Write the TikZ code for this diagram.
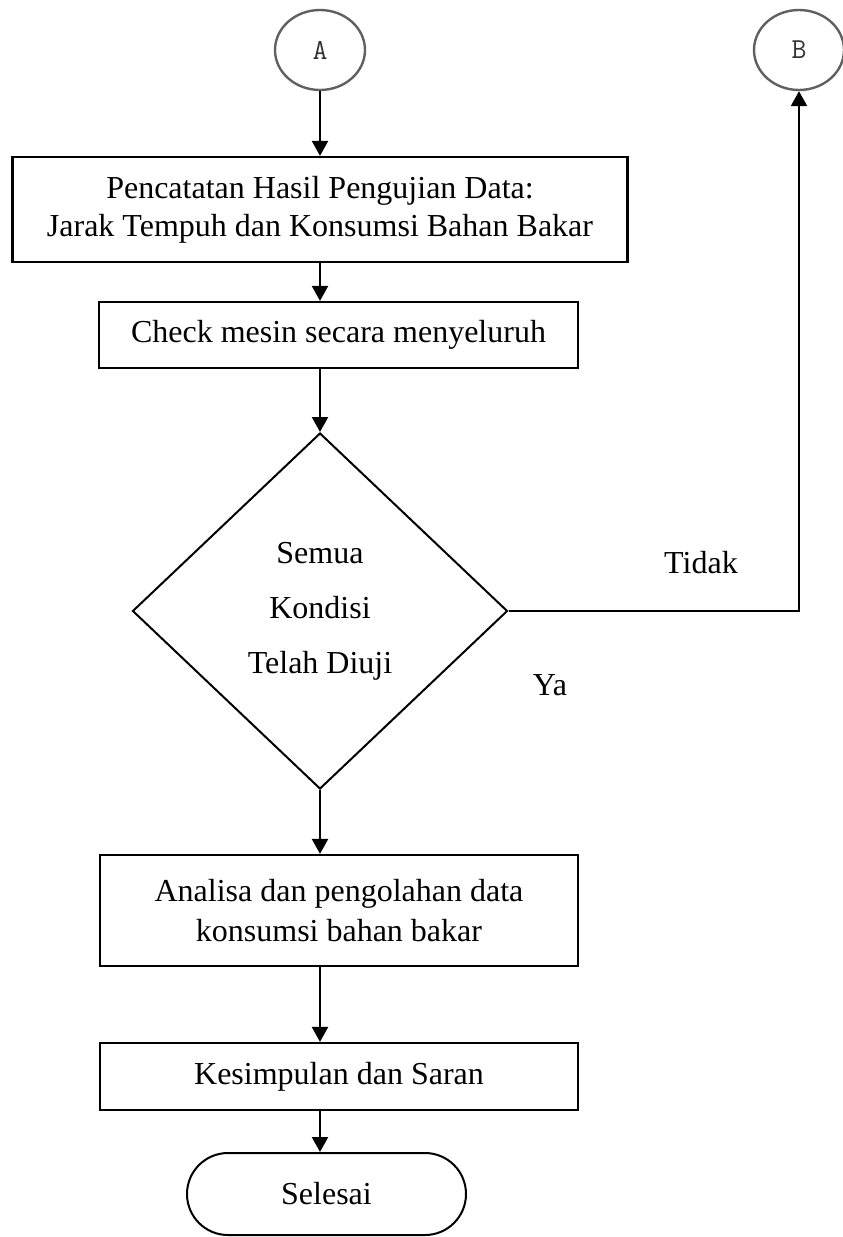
\documentclass[tikz,border=0pt]{standalone}
\usepackage{fontspec}
\setmainfont{Liberation Serif}
\usetikzlibrary{arrows.meta,shapes.geometric}
\begin{document}
\begin{tikzpicture}[x=1pt,y=-1pt,
  every node/.style={font=\fontsize{32}{38}\selectfont},
  procbox/.style={draw,line width=2.2pt,rectangle,inner sep=0pt,align=center},
  conn/.style={draw=gray!75!black,line width=2.4pt,ellipse,inner sep=0pt,minimum width=90pt,minimum height=80pt,text=black!80,font=\ttfamily\fontsize{29}{30}\selectfont},
  decision/.style={draw,line width=2pt,diamond,inner sep=0pt,minimum width=375pt,minimum height=356pt,align=center,font=\fontsize{32}{55}\selectfont},
  term/.style={draw,line width=2pt,rectangle,rounded corners=41pt,inner sep=0pt,minimum width=279pt,minimum height=82pt},
  arr/.style={line width=2.3pt,-{Triangle[length=15pt,width=16pt]}},
  lbl/.style={anchor=base}]
\useasboundingbox (0,0) rectangle (843,1237);
\node[conn] (A) at (320,50) {A};
\node[conn] (B) at (799,50) {B};
\node[procbox,minimum width=615pt,minimum height=105pt] (b1) at (320,209.5) {Pencatatan Hasil Pengujian Data:\\Jarak Tempuh dan Konsumsi Bahan Bakar};
\node[procbox,minimum width=479pt,minimum height=66pt] (b2) at (338.5,335) {Check mesin secara menyeluruh};
\node[decision] (dia) at (320,611) {Semua\\Kondisi\\Telah Diuji};
\node[procbox,minimum width=478pt,minimum height=111pt,font=\fontsize{32}{40}\selectfont] (b3) at (339,910.5) {Analisa dan pengolahan data\\konsumsi bahan bakar};
\node[procbox,minimum width=478pt,minimum height=67pt] (b4) at (339,1076.5) {Kesimpulan dan Saran};
\node[term] (t) at (326.5,1194) {Selesai};
\node[lbl] (tidak) at (701,573) {Tidak};
\node[lbl] (ya) at (550,695) {Ya};
\draw[arr] (A.south -| b1.north) -- (b1.north);
\draw[arr] (b1.south) -- (b2.north -| b1.south);
\draw[arr] (b2.south -| b1.south) -- (dia.north);
\draw[arr] (dia.south) -- (b3.north -| dia.south);
\draw[arr] (b3.south -| dia.south) -- (b4.north -| dia.south);
\draw[arr] (b4.south -| dia.south) -- (t.north -| dia.south);
\draw[arr] (dia.east) -- (dia.east -| B.south) -- (B.south);
\end{tikzpicture}
\end{document}
